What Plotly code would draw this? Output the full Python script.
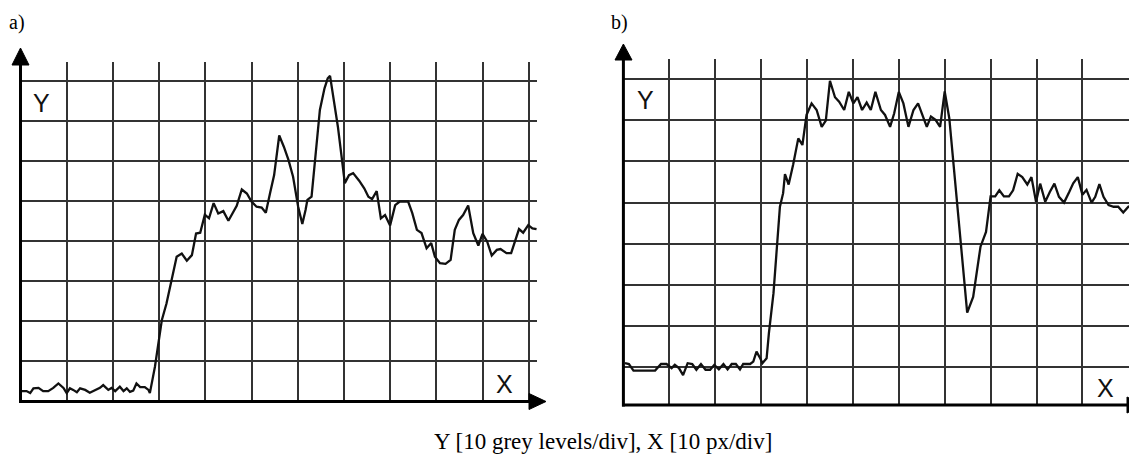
import plotly.graph_objects as go

# ---------------- data (x in px, y in grey levels) ----------------
left_x = [0.25, 1.3, 2.1, 2.8, 3.9, 4.9, 6.0, 7.1, 8.2, 9.3, 10.0, 10.7, 11.4, 12.2, 12.9, 14.0,
          15.0, 16.1, 17.2, 17.9, 19.0, 19.7, 20.5, 21.5, 22.3, 23.0, 23.7, 24.4, 25.1, 25.9, 26.9,
          27.7, 28.0, 29.1, 29.8, 30.6, 31.6, 32.4, 33.1, 33.8, 34.9, 36.0, 37.1, 38.0, 38.9, 39.9,
          40.8, 41.8, 42.8, 43.9, 45.0, 46.1, 46.8, 47.9, 49.0, 50.0, 51.1, 52.2, 53.1, 54.0, 54.9,
          56.0, 57.0, 58.0, 59.0, 60.1, 61.0, 61.7, 62.1, 63.0, 63.9, 64.8, 65.8, 66.5, 67.0, 67.7,
          68.7, 69.5, 70.2, 71.1, 72.0, 73.3, 74.4, 75.3, 76.1, 77.1, 78.0, 78.9, 80.0, 81.1, 82.1,
          83.9, 84.8, 85.8, 86.8, 87.9, 88.9, 89.7, 90.8, 92.0, 93.1, 94.0, 94.9, 95.8, 96.9, 98.0,
          99.1, 100.0, 101.0, 102.0, 103.1, 103.9, 105.2, 106.2, 107.0, 107.9, 108.8, 109.9, 110.8,
          111.7]
left_y = [2.4, 2.4, 1.9, 3.1, 3.2, 2.4, 2.4, 3.2, 4.3, 3.2, 1.9, 3.1, 2.7, 2.1, 3.1, 2.7,
          2.0, 2.7, 3.2, 3.9, 2.7, 3.2, 2.4, 3.5, 2.4, 3.1, 2.2, 2.5, 4.3, 3.4, 3.4,
          2.7, 1.9, 8.5, 13.5, 20.2, 24.3, 28.5, 32.7, 36.0, 36.8, 35.0, 36.4, 41.8, 42.0, 46.5,
          45.6, 49.4, 46.8, 47.4, 45.0, 47.2, 48.7, 52.8, 51.8, 49.8, 48.5, 48.3, 47.0, 51.8, 56.4,
          66.3, 63.5, 60.2, 56.0, 48.5, 44.2, 47.7, 50.2, 51.0, 62.7, 72.7, 78.1, 80.6, 81.2, 76.0,
          68.5, 61.0, 54.4, 56.4, 56.9, 55.0, 53.1, 51.0, 50.4, 52.4, 45.6, 46.4, 43.8, 48.9, 49.8,
          49.8, 46.9, 42.7, 41.9, 38.1, 39.4, 36.0, 34.4, 34.2, 35.2, 42.7, 45.2, 46.4, 48.8, 41.9,
          38.8, 41.7, 39.8, 36.3, 37.7, 37.9, 36.9, 36.9, 39.8, 42.9, 42.0, 43.9, 43.1,
          42.9]

right_x = [0.35, 1.2, 2.2, 3.0, 4.0, 5.0, 6.0, 6.9, 8.2, 9.4, 10.5, 11.2, 12.1, 13.0, 14.0, 15.0,
           15.9, 16.9, 17.9, 18.9, 19.8, 20.8, 21.8, 22.7, 23.6, 24.5, 25.4, 26.1, 26.9, 27.6, 28.3,
           29.0, 29.8, 30.3, 31.2, 31.7, 32.7, 33.4, 34.1, 34.8, 35.2, 36.0, 37.0, 38.1, 39.0, 39.9,
           41.0, 42.1, 43.2, 44.1, 45.0, 46.1, 47.0, 48.1, 49.1, 50.1, 51.0, 52.0, 53.0, 53.9, 54.9,
           56.1, 57.0, 58.1, 59.0, 60.0, 61.0, 62.1, 63.2, 64.2, 65.1, 66.1, 67.0, 68.0, 69.0, 70.0,
           71.0, 72.6, 74.1, 74.9, 76.2, 77.8, 79.0, 80.0, 81.0, 81.9, 82.9, 84.0, 84.9, 85.9, 86.9,
           88.0, 88.9, 89.9, 90.8, 91.9, 92.9, 93.9, 94.9, 96.0, 97.1, 98.0, 99.0, 100.0, 100.9,
           102.0, 102.8, 103.7, 104.6, 105.7, 106.8, 107.8, 108.9, 110.0, 111.5]
right_y = [11.0, 10.8, 9.2, 9.2, 9.2, 9.2, 9.2, 9.2, 10.8, 10.8, 9.8, 10.6, 9.8, 8.1, 11.0, 10.8,
           9.4, 10.8, 9.4, 9.4, 10.6, 9.5, 10.8, 9.5, 10.8, 10.8, 9.5, 10.8, 10.8, 10.8, 11.4,
           13.8, 12.2, 11.0, 12.2, 18.3, 28.0, 37.7, 49.0, 52.3, 56.9, 54.4, 59.3, 65.6, 64.0, 71.3,
           74.1, 72.5, 68.4, 69.9, 79.6, 75.6, 74.5, 72.5, 76.9, 74.1, 75.6, 72.5, 74.3, 72.5, 76.9,
           72.5, 71.3, 68.4, 71.7, 76.9, 74.1, 68.4, 72.5, 74.1, 71.3, 68.4, 70.9, 70.1, 68.4, 77.0,
           70.5, 50.6, 32.8, 23.3, 27.1, 39.3, 42.9, 51.5, 51.5, 53.0, 51.5, 51.5, 53.0, 57.0, 56.2,
           54.4, 56.2, 50.2, 54.6, 50.2, 52.6, 54.6, 51.4, 50.0, 52.5, 54.7, 56.2, 51.9, 53.1,
           50.0, 51.4, 54.5, 51.4, 49.4, 49.0, 49.0, 47.6, 49.0, 49.5]

panel_labels = ["a)", "b)"]
axis_labels = ["Y", "X"]
caption = "Y [10 grey levels/div], X [10 px/div]"

# ---------------- layout helpers (pixel -> paper) ----------------
W, H = 1129, 457


def px(x):
    return x / W


def py(y):
    return 1 - y / H


fig = go.Figure()
fig.add_trace(go.Scatter(x=left_x, y=left_y, mode="lines", xaxis="x", yaxis="y",
                         line=dict(color="#111111", width=2.3), showlegend=False))
fig.add_trace(go.Scatter(x=right_x, y=right_y, mode="lines", xaxis="x2", yaxis="y2",
                         line=dict(color="#111111", width=2.3), showlegend=False))

grid = dict(showgrid=True, gridcolor="#333333", gridwidth=2, dtick=10, tick0=0,
            zeroline=False, showticklabels=False, ticks="", showline=False, fixedrange=True)

fig.update_layout(
    width=W, height=H, margin=dict(l=0, r=0, t=0, b=0),
    paper_bgcolor="white", plot_bgcolor="white",
    xaxis=dict(domain=[px(20.5), px(537)], range=[0, (537 - 20.5) / 4.62], anchor="y", **grid),
    yaxis=dict(domain=[py(400.7), py(62)], range=[0, (400.7 - 62) / 4.0], anchor="x", **grid),
    xaxis2=dict(domain=[px(623.4), 1.0], range=[0, (1129 - 623.4) / 4.59], anchor="y2", **grid),
    yaxis2=dict(domain=[py(405), py(59)],
                range=[10 - (405 - 367.3) / 4.117, 10 + (367.3 - 59) / 4.117], anchor="x2", **grid),
)

# axes with arrows (decorations in paper coordinates)
shapes = []
def line(x0, y0, x1, y1, w=3):
    shapes.append(dict(type="line", xref="paper", yref="paper", x0=px(x0), y0=py(y0),
                       x1=px(x1), y1=py(y1), line=dict(color="black", width=w)))


def tri(p):
    path = "M " + " L ".join(f"{px(a)},{py(b)}" for a, b in p) + " Z"
    shapes.append(dict(type="path", xref="paper", yref="paper", path=path,
                       fillcolor="black", line=dict(color="black", width=1)))


# left panel
line(20.5, 402.5, 20.5, 62)
tri([(20.5, 48), (12, 65), (29, 65)])
line(19, 401.5, 531, 401.5)
tri([(546, 401.5), (529, 393.5), (529, 409.5)])
# right panel
line(623.4, 406.5, 623.4, 58)
tri([(623.4, 44), (615, 60), (632, 60)])
line(622, 405, 1129, 405)
tri([(1144, 405), (1127, 397), (1127, 413)])
fig.update_layout(shapes=shapes)

ann = []
serif = "Liberation Serif"
sans = "Liberation Sans"
ann.append(dict(text=panel_labels[0], x=px(7), y=py(22), xanchor="left", yanchor="middle",
                font=dict(family=serif, size=20, color="black")))
ann.append(dict(text=panel_labels[1], x=px(609), y=py(22), xanchor="left", yanchor="middle",
                font=dict(family=serif, size=20, color="black")))
ann.append(dict(text=axis_labels[0], x=px(41), y=py(103), xanchor="center", yanchor="middle",
                font=dict(family=sans, size=25, color="#111111")))
ann.append(dict(text=axis_labels[1], x=px(504.5), y=py(384), xanchor="center", yanchor="middle",
                font=dict(family=sans, size=25, color="#111111")))
ann.append(dict(text=axis_labels[0], x=px(645), y=py(100), xanchor="center", yanchor="middle",
                font=dict(family=sans, size=25, color="#111111")))
ann.append(dict(text=axis_labels[1], x=px(1105.5), y=py(388), xanchor="center", yanchor="middle",
                font=dict(family=sans, size=25, color="#111111")))
ann.append(dict(text=caption, x=px(603), y=py(441), xanchor="center", yanchor="middle",
                font=dict(family=serif, size=23, color="black")))
for a in ann:
    a.update(xref="paper", yref="paper", showarrow=False)
fig.update_layout(annotations=ann)

fig.write_html("out.html", config={"displayModeBar": False},
               post_script="document.body.style.margin='0px';document.body.style.overflow='hidden';")
